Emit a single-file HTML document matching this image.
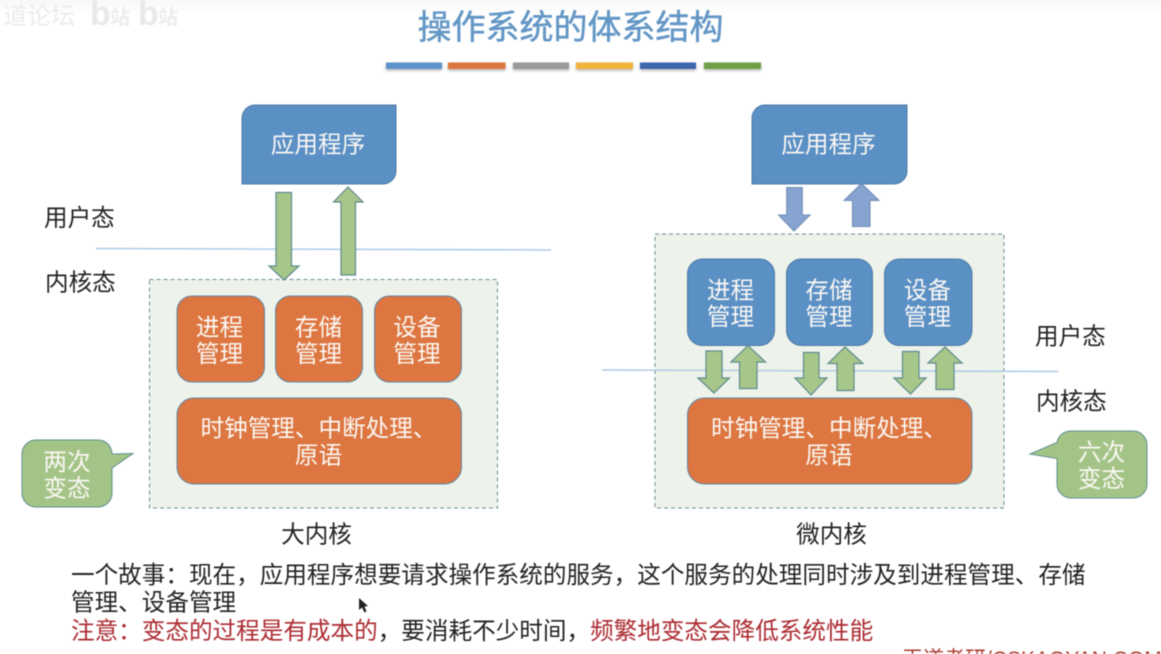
<!DOCTYPE html>
<html lang="zh">
<head>
<meta charset="utf-8">
<title>操作系统的体系结构</title>
<style>
html,body{margin:0;padding:0;background:#fff;width:1161px;height:654px;overflow:hidden}
svg{display:block;filter:blur(0.4px)}
text{font-family:"Liberation Sans","Noto Sans CJK SC",sans-serif;font-size:23.6px;fill:#222}
.w{fill:#fbf8f4;text-anchor:middle}
.c{text-anchor:middle}
.blue{fill:#5b90c5;stroke:#4f7ba6;stroke-width:1}
.or{fill:#dd7640;stroke:#5f86a8;stroke-width:1}
.ga{fill:#a7c68a;stroke:#5f8a8e;stroke-width:1.2}
.ba{fill:#87a3cf;stroke:#6c8cb6;stroke-width:1}
.gc{fill:#a4c487;stroke:#5f8f90;stroke-width:1}
.box{fill:#edf3ea;stroke:#6a8a96;stroke-width:1;stroke-dasharray:4 3}
.ln{stroke:#a9c9e6;stroke-width:1.4;fill:none}
</style>
</head>
<body>
<svg width="1161" height="654" viewBox="0 0 1161 654" xmlns="http://www.w3.org/2000/svg">
<defs>
<filter id="sh" x="-10%" y="-100%" width="120%" height="350%"><feDropShadow dx="0" dy="1.5" stdDeviation="1.5" flood-color="#000" flood-opacity=".3"/></filter>
<linearGradient id="top" x1="0" y1="0" x2="0" y2="1"><stop offset="0" stop-color="#f8f8f8"/><stop offset="1" stop-color="#fff"/></linearGradient>
</defs>
<rect width="1161" height="654" fill="#fff"/>
<rect width="1161" height="14" fill="url(#top)"/>

<!-- watermark -->
<text x="3" y="24" style="font-size:24px;fill:#ececec">道论坛</text>
<text x="90" y="25" style="font-size:34px;font-weight:700;fill:#e9e9e9">b</text>
<text x="110" y="24" style="font-size:20px;font-weight:700;fill:#ececec">站</text>
<text x="138" y="25" style="font-size:34px;font-weight:700;fill:#e9e9e9">b</text>
<text x="158" y="24" style="font-size:20px;font-weight:700;fill:#ececec">站</text>

<!-- title -->
<text x="570.5" y="39" class="c" style="font-size:34px;fill:#6497c6;stroke:#6497c6;stroke-width:.5">操作系统的体系结构</text>
<g filter="url(#sh)">
<rect x="386" y="62.5" width="56" height="6.5" fill="#5b93c9"/>
<rect x="448" y="62.5" width="57.5" height="6.5" fill="#dd7440"/>
<rect x="513" y="62.5" width="56" height="6.5" fill="#9a9a9a"/>
<rect x="576" y="62.5" width="57" height="6.5" fill="#f2b33d"/>
<rect x="640" y="62.5" width="56" height="6.5" fill="#3d66ad"/>
<rect x="704" y="62.5" width="57" height="6.5" fill="#6e9f46"/>
</g>

<!-- left diagram -->
<path class="blue" d="M255 105H396V171a13 13 0 0 1-13 13H242V118a13 13 0 0 1 13-13Z"/>
<text x="318" y="152.5" class="w">应用程序</text>
<rect class="box" x="149.5" y="279.5" width="348" height="228.5"/>
<path class="ln" d="M96 248.5L551 250"/>
<path class="ga" d="M276 192.5H291.5V266H299L284 280L269 266H276Z"/>
<path class="ga" d="M341 275V202H333.5L348 187L363 202H355.5V275Z"/>
<rect class="or" x="177" y="296" width="87.5" height="86" rx="15"/>
<rect class="or" x="275.5" y="296" width="87" height="86" rx="15"/>
<rect class="or" x="374.5" y="296" width="87" height="86" rx="15"/>
<rect class="or" x="177" y="398" width="284.5" height="86" rx="17"/>
<text x="219.5" y="335.5" class="w">进程</text><text x="219.5" y="362" class="w">管理</text>
<text x="318.5" y="335.5" class="w">存储</text><text x="318.5" y="362" class="w">管理</text>
<text x="417" y="335.5" class="w">设备</text><text x="417" y="362" class="w">管理</text>
<text x="318.5" y="436.5" class="w">时钟管理、中断处理、</text><text x="318.5" y="463.5" class="w">原语</text>

<text x="44" y="226">用户态</text>
<text x="45" y="290.5">内核态</text>
<path class="gc" d="M36 440H98a14 14 0 0 1 14 14L133 453.5L112 468V493a14 14 0 0 1-14 14H36a14 14 0 0 1-14-14V454a14 14 0 0 1 14-14Z"/>
<text x="67" y="470" class="w">两次</text><text x="67" y="496.5" class="w">变态</text>
<text x="316.5" y="542.5" class="c">大内核</text>

<!-- right diagram -->
<path class="blue" d="M765 105H907V171a13 13 0 0 1-13 13H752V118a13 13 0 0 1 13-13Z"/>
<text x="828.5" y="152.5" class="w">应用程序</text>
<path class="ba" d="M786.7 187.5H802.3V215H810L794 231L778.5 215H786.7Z"/>
<path class="ba" d="M852.5 226.5V200.5H844L861.5 183.5L879 200.5H870V226.5Z"/>
<rect class="box" x="655" y="234" width="349" height="274"/>
<path class="ln" d="M602 370L1058 371.5"/>
<rect class="blue" x="687.5" y="259" width="87" height="86.5" rx="15"/>
<rect class="blue" x="786.5" y="259" width="86" height="86.5" rx="15"/>
<rect class="blue" x="884.5" y="259" width="87.5" height="86.5" rx="15"/>
<rect class="or" x="687.5" y="398" width="284.5" height="86" rx="17"/>
<text x="730.5" y="298.5" class="w">进程</text><text x="730.5" y="325" class="w">管理</text>
<text x="829" y="298.5" class="w">存储</text><text x="829" y="325" class="w">管理</text>
<text x="927.5" y="298.5" class="w">设备</text><text x="927.5" y="325" class="w">管理</text>
<text x="829" y="436.5" class="w">时钟管理、中断处理、</text><text x="829" y="463.5" class="w">原语</text>

<path class="ga" d="M706 351H722V378H729.5L714 393L698 378H706Z"/>
<path class="ga" d="M739.5 388.5V362H731L748 345.5L765.5 362H757V388.5Z"/>
<path class="ga" d="M803.5 352.5H819V378H827L811 395L795 378H803.5Z"/>
<path class="ga" d="M837 390.5V363.5H828L845 347L863 363.5H854V390.5Z"/>
<path class="ga" d="M902.5 351.5H919V378H926L910.5 394L894 378H902.5Z"/>
<path class="ga" d="M936 389.5V363H928L945 347L962 363H954V389.5Z"/>

<text x="1035" y="344.5">用户态</text>
<text x="1036" y="409.5">内核态</text>
<path class="gc" d="M1071 431H1133a14 14 0 0 1 14 14V484a14 14 0 0 1-14 14H1071a14 14 0 0 1-14-14V458.5L1030 454L1057 442.5A14 14 0 0 1 1071 431Z"/>
<text x="1101.5" y="460.5" class="w">六次</text><text x="1101.5" y="487" class="w">变态</text>
<text x="831.5" y="542.5" class="c">微内核</text>

<!-- bottom text -->
<text x="71" y="583">一个故事：现在，应用程序想要请求操作系统的服务，这个服务的处理同时涉及到进程管理、存储</text>
<text x="71" y="610.5">管理、设备管理</text>
<text x="71" y="639"><tspan fill="#ab2a30">注意：变态的过程是有成本的</tspan>，要消耗不少时间，<tspan fill="#ab2a30">频繁地变态会降低系统性能</tspan></text>
<path d="M359 598L359 610L362 607.5L364.5 612.5L366.5 611.5L364.5 606.5L368 606Z" fill="#222"/>

<text x="902" y="666" style="font-size:21px;fill:#a83a2c">王道考研/CSKAOYAN.COM</text>
</svg>
</body>
</html>
